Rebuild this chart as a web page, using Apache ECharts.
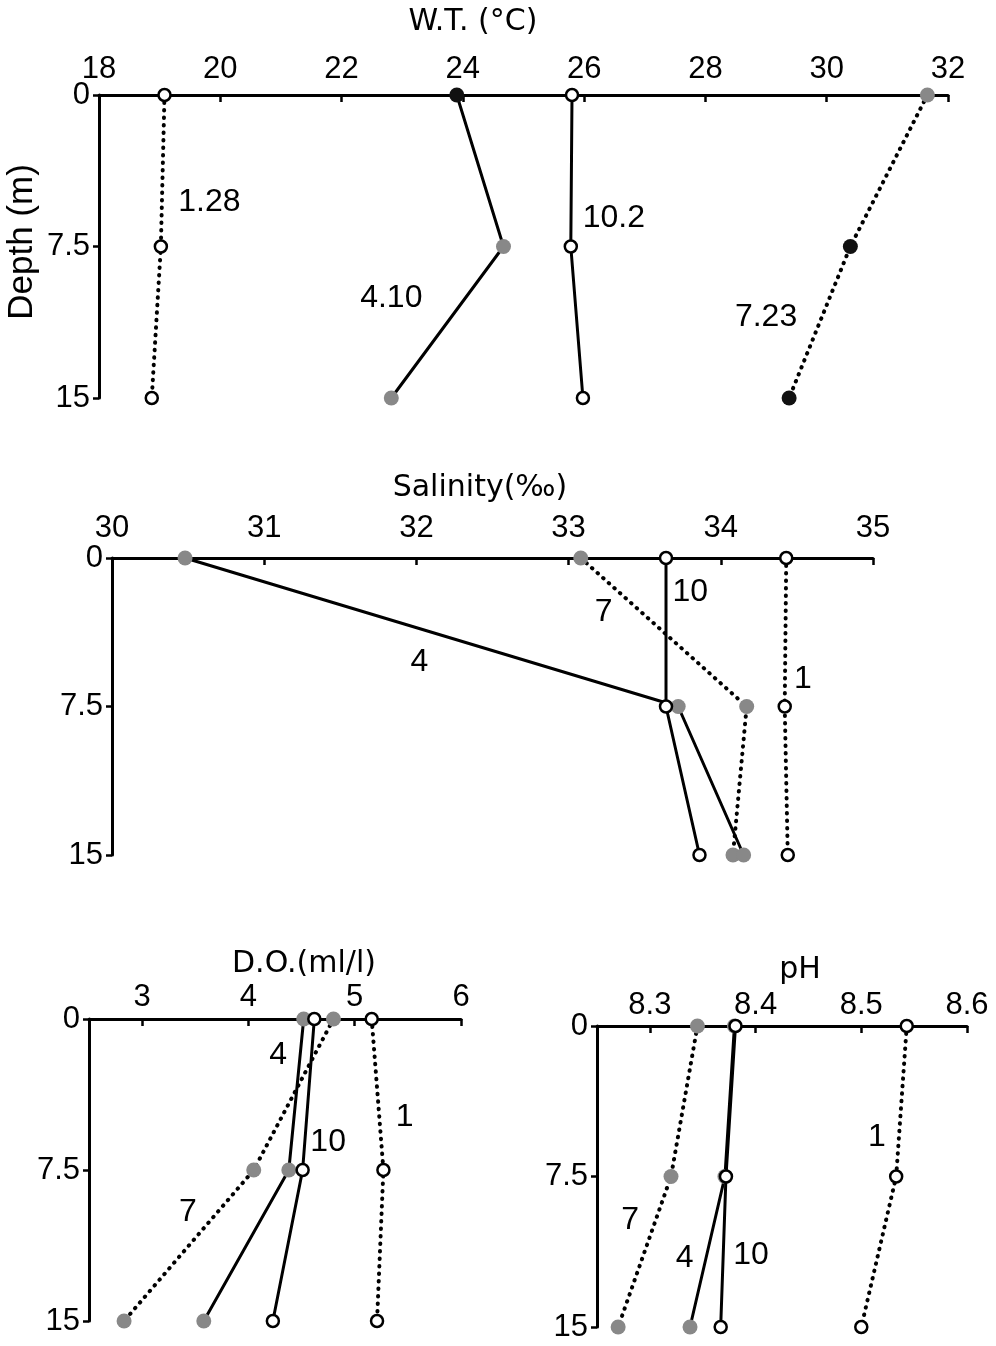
<!DOCTYPE html>
<html>
<head>
<meta charset="utf-8">
<script src="https://cdn.jsdelivr.net/npm/echarts@6/dist/echarts.min.js"></script>
<style>
html,body{margin:0;padding:0;background:#fff;}
#c{width:996px;height:1346px;}
</style>
</head>
<body>
<div id="c"></div>
<script>
// ---------- data ----------
const depths = [0, 7.5, 15];
const depthTicks = [0, 7.5, 15];

// Water temperature (°C), by sampling date
const wtTicks = [18, 20, 22, 24, 26, 28, 30, 32];
const wt_1_28 = [19.08, 19.02, 18.87];
const wt_4_10 = [23.90, 24.67, 22.82];
const wt_10_2 = [25.80, 25.78, 25.98];
const wt_7_23 = [31.66, 30.39, 29.38];

// Salinity (‰), by month
const salTicks = [30, 31, 32, 33, 34, 35];
const sal_1 = [34.43, 34.42, 34.44];
const sal_4 = [30.48, 33.72, 34.15];
const sal_7 = [33.08, 34.17, 34.08];
const sal_10 = [33.64, 33.64, 33.86];

// Dissolved oxygen (ml/l), by month
const doTicks = [3, 4, 5, 6];
const do_1 = [5.16, 5.27, 5.21];
const do_4 = [4.52, 4.38, 3.58];
const do_7 = [4.80, 4.05, 2.83];
const do_10 = [4.62, 4.51, 4.23];

// pH, by month
const phTicks = [8.3, 8.4, 8.5, 8.6];
const ph_1 = [8.543, 8.533, 8.500];
const ph_4 = [8.380, 8.371, 8.338];
const ph_7 = [8.345, 8.320, 8.270];
const ph_10 = [8.381, 8.372, 8.367];

// ---------- styling ----------
const FONT = '"Liberation Sans", Arial, sans-serif';
const TITLE_FONT = '"DejaVu Sans", "Liberation Sans", sans-serif';
const GRAY = '#888888';
const BLACK = '#000';

const solid = {color: BLACK, width: 3, type: 'solid'};
const dotted = {color: BLACK, width: 4, type: [0.5, 7], cap: 'round'};

function pts(vals, fills) {
  return vals.map((v, i) => {
    const f = fills[i];
    const o = {value: [v, depths[i]]};
    if (f === 'open') {
      o.symbolSize = 12;
      o.itemStyle = {color: '#fff', borderColor: BLACK, borderWidth: 2.5};
    } else {
      o.symbolSize = 15;
      o.itemStyle = {color: f === 'black' ? '#111' : GRAY, borderWidth: 0};
    }
    return o;
  });
}

function line(idx, vals, fills, ls, z) {
  return {
    type: 'line', xAxisIndex: idx, yAxisIndex: idx,
    data: pts(vals, fills), symbol: 'circle', showSymbol: true,
    lineStyle: ls, z: z || 3, animation: false, silent: true
  };
}

function notes(idx, items) {
  return {
    type: 'scatter', xAxisIndex: idx, yAxisIndex: idx,
    symbolSize: 0, silent: true, animation: false, z: 5,
    itemStyle: {opacity: 1},
    data: items.map(t => ({value: [t[0], t[1]], name: t[2]})),
    label: {show: true, position: 'inside', formatter: p => p.name, opacity: 1,
            fontFamily: FONT, fontSize: 32, color: BLACK, textBorderWidth: 0}
  };
}

const grids = [
  {left: 99, top: 95, width: 849, height: 303},
  {left: 112, top: 558, width: 761, height: 297},
  {left: 89, top: 1019, width: 372, height: 302},
  {left: 597, top: 1026, width: 370, height: 301}
];

function xAxis(idx, min, max, ticks, margin, useCustom) {
  const a = {
    type: 'value', gridIndex: idx, position: 'top', min: min, max: max,
    axisLine: {show: true, lineStyle: {color: BLACK, width: 3}},
    axisTick: {show: true, inside: true, length: 7, lineStyle: {color: BLACK, width: 2.5}},
    axisLabel: {fontFamily: FONT, fontSize: 31, color: BLACK, margin: margin,
                formatter: v => String(+v.toFixed(2))},
    splitLine: {show: false}
  };
  if (useCustom) {
    a.axisTick.customValues = ticks;
    a.axisLabel.customValues = ticks;
  } else {
    a.interval = ticks[1] - ticks[0];
  }
  return a;
}

function yAxis(idx) {
  return {
    type: 'value', gridIndex: idx, inverse: true, min: depthTicks[0],
    max: depthTicks[depthTicks.length - 1], interval: depthTicks[1] - depthTicks[0],
    axisLine: {show: true, lineStyle: {color: BLACK, width: 3}},
    axisTick: {show: true, length: 6, lineStyle: {color: BLACK, width: 2.5}},
    axisLabel: {fontFamily: FONT, fontSize: 31, color: BLACK, margin: 9,
                formatter: v => String(v)},
    splitLine: {show: false}
  };
}

const option = {
  backgroundColor: '#fff',
  animation: false,
  grid: grids,
  xAxis: [
    xAxis(0, wtTicks[0], wtTicks[wtTicks.length - 1], wtTicks, 10, false),
    xAxis(1, salTicks[0], salTicks[salTicks.length - 1], salTicks, 14, false),
    xAxis(2, 2.5, doTicks[doTicks.length - 1], doTicks, 6, true),
    xAxis(3, 8.25, phTicks[phTicks.length - 1], phTicks, 5, true)
  ],
  yAxis: [yAxis(0), yAxis(1), yAxis(2), yAxis(3)],
  graphic: [
    {type: 'text', x: 473, y: 22, style: {text: 'W.T. (°C)', font: '30px ' + TITLE_FONT, fill: BLACK, align: 'center', verticalAlign: 'middle'}},
    {type: 'text', x: 480, y: 488, style: {text: 'Salinity(‰)', font: '30px ' + TITLE_FONT, fill: BLACK, align: 'center', verticalAlign: 'middle'}},
    {type: 'text', x: 304, y: 964, style: {text: 'D.O.(ml/l)', font: '30px ' + TITLE_FONT, fill: BLACK, align: 'center', verticalAlign: 'middle'}},
    {type: 'text', x: 800, y: 970, style: {text: 'pH', font: '30px ' + TITLE_FONT, fill: BLACK, align: 'center', verticalAlign: 'middle'}},
    {type: 'text', x: 22, y: 242, rotation: Math.PI / 2, style: {text: 'Depth (m)', font: '35px ' + FONT, fill: BLACK, align: 'center', verticalAlign: 'middle'}}
  ],
  series: [
    line(0, wt_1_28, ['open', 'open', 'open'], dotted),
    line(0, wt_4_10, ['black', 'gray', 'gray'], solid),
    line(0, wt_10_2, ['open', 'open', 'open'], solid),
    line(0, wt_7_23, ['gray', 'black', 'black'], dotted),
    notes(0, [[19.82, 5.3, '1.28'], [26.49, 6.09, '10.2'], [22.82, 10.05, '4.10'], [29.0, 11.0, '7.23']]),

    line(1, sal_1, ['open', 'open', 'open'], dotted),
    line(1, sal_7, ['gray', 'gray', 'gray'], dotted),
    line(1, sal_4, ['gray', 'gray', 'gray'], solid),
    line(1, sal_10, ['open', 'open', 'open'], solid, 4),
    notes(1, [[33.80, 1.72, '10'], [33.23, 2.73, '7'], [32.02, 5.25, '4'], [34.54, 6.11, '1']]),

    line(2, do_1, ['open', 'open', 'open'], dotted),
    line(2, do_7, ['gray', 'gray', 'gray'], dotted),
    line(2, do_4, ['gray', 'gray', 'gray'], solid),
    line(2, do_10, ['open', 'open', 'open'], solid, 4),
    notes(2, [[4.28, 1.79, '4'], [4.75, 6.11, '10'], [5.47, 4.87, '1'], [3.43, 9.59, '7']]),

    line(3, ph_1, ['open', 'open', 'open'], dotted),
    line(3, ph_7, ['gray', 'gray', 'gray'], dotted),
    line(3, ph_4, ['gray', 'gray', 'gray'], solid),
    line(3, ph_10, ['open', 'open', 'open'], solid, 4),
    notes(3, [[8.2814, 9.67, '7'], [8.3329, 11.56, '4'], [8.3957, 11.41, '10'], [8.5148, 5.53, '1']])
  ]
};

const chart = echarts.init(document.getElementById('c'), null, {renderer: 'canvas'});
chart.setOption(option);
</script>
</body>
</html>
